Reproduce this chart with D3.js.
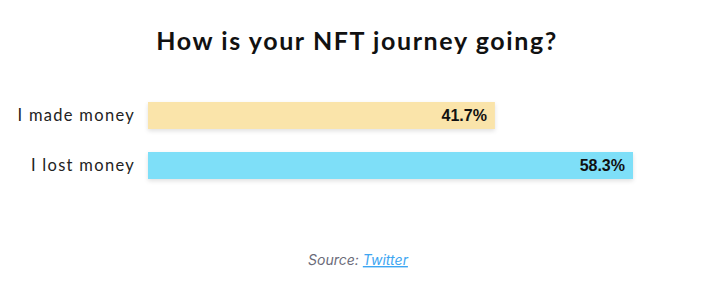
<!DOCTYPE html>
<html><head><meta charset="utf-8">
<script src="https://cdn.jsdelivr.net/npm/d3@7"></script>
<style>
body{margin:0;background:#fff;}
svg{display:block;}
</style></head>
<body>
<script>
const categories = ["I made money", "I lost money"];
const values = [41.7, 58.3];
const labels = ["41.7%", "58.3%"];
const colors = ["#FAE4AA", "#7EDFF8"];
const title = "How is your NFT journey going?";

const W = 706, H = 287;
const svg = d3.select("body").append("svg").attr("width", W).attr("height", H);

const defs = svg.append("defs");
const f = defs.append("filter").attr("id","sh").attr("x","-5%").attr("y","-30%").attr("width","110%").attr("height","170%");
f.append("feDropShadow").attr("dx",0).attr("dy",2).attr("stdDeviation",2).attr("flood-color","#000").attr("flood-opacity",0.12);

svg.append("text").attr("x", 357).attr("y", 50).attr("text-anchor","middle")
  .attr("font-family","Lato, 'Noto Sans', sans-serif").attr("font-weight",700)
  .attr("font-size",25).attr("letter-spacing",1.6).attr("fill","#111").text(title);

const x = d3.scaleLinear().domain([0, 58.3]).range([148, 633]);
const y = d3.scaleBand().domain(categories).range([92, 189]).paddingInner(0.46).paddingOuter(0.2);

const g = svg.append("g");
g.selectAll("rect").data(values).join("rect")
  .attr("x", x(0)).attr("y", (d,i)=>y(categories[i]))
  .attr("width", d=>x(d)-x(0)).attr("height", y.bandwidth())
  .attr("fill", (d,i)=>colors[i]).attr("filter","url(#sh)");

g.selectAll("text.val").data(values).join("text").attr("class","val")
  .attr("x", d=>x(d)-8).attr("y", (d,i)=>y(categories[i])+y.bandwidth()/2)
  .attr("dy","0.36em").attr("text-anchor","end")
  .attr("font-family","'Liberation Sans', Arial, sans-serif").attr("font-weight",700)
  .attr("font-size",16).attr("fill","#111").text((d,i)=>labels[i]);

const yAxis = d3.axisLeft(y).tickSize(0).tickPadding(0);
const ag = svg.append("g").attr("transform","translate(135,0)").call(yAxis);
ag.select(".domain").remove();
ag.selectAll("text").attr("font-family","Lato, 'Noto Sans', sans-serif").attr("font-size",16.5)
  .attr("letter-spacing",1.3).attr("fill","#222").attr("dy","0.36em");

const src = svg.append("text").attr("x", 358).attr("y", 265).attr("text-anchor","middle")
  .attr("font-family","Inter, 'Noto Sans', sans-serif").attr("font-style","italic")
  .attr("font-size",14).attr("fill","#6a6a78");
src.append("tspan").text("Source: ");
src.append("tspan").attr("fill","#3EA6F2").attr("text-decoration","underline").text("Twitter");
</script>
</body></html>
